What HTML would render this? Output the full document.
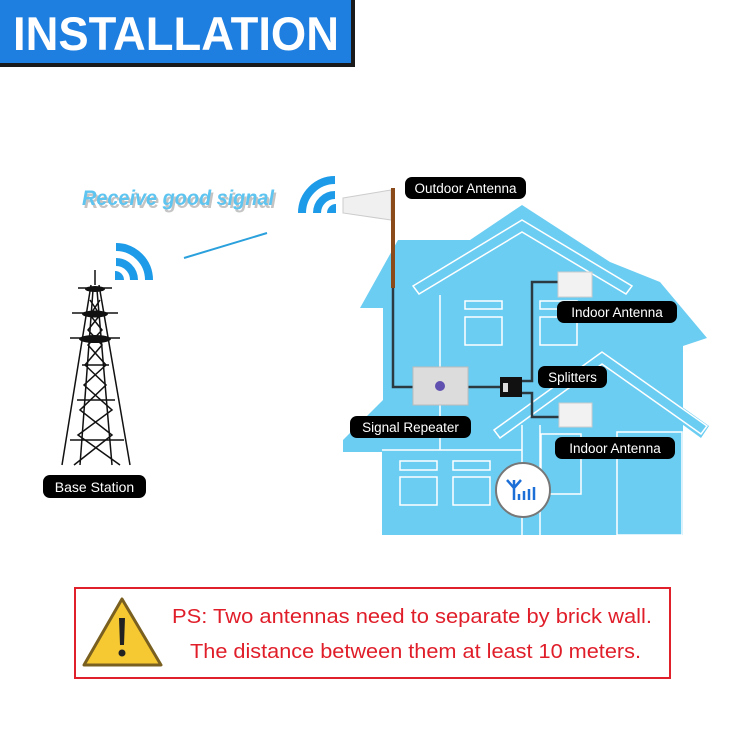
<!DOCTYPE html>
<html><head><meta charset="utf-8"><style>
html,body{margin:0;padding:0;background:#fff;}
svg{display:block;}
text{font-family:"Liberation Sans",Arial,sans-serif;}
</style></head><body>
<svg width="750" height="750" viewBox="0 0 750 750" xmlns="http://www.w3.org/2000/svg">
<rect width="750" height="750" fill="#fff"/>
<!-- header -->
<rect x="0" y="0" width="355" height="67" fill="#1a1a1a"/>
<rect x="0" y="0" width="351" height="63" fill="#1f7fe0"/>
<text x="176" y="50" font-size="47" font-weight="bold" fill="#fff" text-anchor="middle" textLength="326" lengthAdjust="spacingAndGlyphs">INSTALLATION</text>

<!-- signal text -->
<text x="180" y="208" font-size="21" font-weight="bold" font-style="italic" fill="#8a8a8a" opacity="0.5" text-anchor="middle" textLength="192" lengthAdjust="spacingAndGlyphs">Receive good signal</text>
<text x="178" y="205" font-size="21" font-weight="bold" font-style="italic" fill="#5ec4f0" text-anchor="middle" textLength="192" lengthAdjust="spacingAndGlyphs">Receive good signal</text>
<line x1="184" y1="258" x2="267" y2="233" stroke="#2aa0dc" stroke-width="2"/>

<!-- wifi 1 -->
<g fill="none" stroke="#1d9be8" stroke-width="8">
<path d="M116,262 A18,18 0 0 1 134,280"/>
<path d="M116,247 A33,33 0 0 1 149,280"/>
</g>
<path d="M115,271 A9,9 0 0 1 124,280 L115,280Z" fill="#1d9be8"/>
<!-- wifi 2 -->
<g fill="none" stroke="#1d9be8" stroke-width="8">
<path d="M335,195 A18,18 0 0 0 317,213"/>
<path d="M335,180 A33,33 0 0 0 302,213"/>
</g>
<path d="M336,204 A9,9 0 0 0 327,213 L336,213Z" fill="#1d9be8"/>

<!-- tower -->
<g stroke="#111" stroke-width="1.5" fill="none">
<line x1="95" y1="270" x2="95" y2="285"/>
<line x1="91" y1="285" x2="62" y2="465"/>
<line x1="99" y1="285" x2="130" y2="465"/>
<line x1="93" y1="290" x2="80" y2="465"/>
<line x1="97" y1="290" x2="112" y2="465"/>
<path d="M90,300 L100,315 L88,330 L102,345 L85,365 L106,385 L80,410 L112,435 L74,465 M100,300 L90,315 L102,330 L88,345 L106,365 L84,385 L112,410 L78,435 L120,465"/>
<line x1="70" y1="440" x2="124" y2="440"/>
<line x1="77" y1="400" x2="115" y2="400"/>
<line x1="82" y1="365" x2="109" y2="365"/>
<line x1="72" y1="313" x2="118" y2="313"/>
<line x1="70" y1="338" x2="120" y2="338"/>
<line x1="78" y1="288" x2="112" y2="288"/>
</g>
<ellipse cx="95" cy="289" rx="10" ry="3" fill="#111"/>
<ellipse cx="95" cy="314" rx="13" ry="3.5" fill="#111"/>
<ellipse cx="95" cy="339" rx="16" ry="4" fill="#111"/>
<rect x="43" y="475" width="103" height="23" rx="7" fill="#000"/>
<text x="94.5" y="492" font-size="14" fill="#fff" text-anchor="middle">Base Station</text>

<!-- house -->
<path d="M382,535 L382,452 L343,452 L343,440 L383,400 L383,308 L360,308 L398,240 L470,240 L522,205 L610,262 L660,282 L707,338 L683,346 L683,535 Z" fill="#6ccdf2"/>
<path d="M492,432 L602,350 L709,426 L701,438 L602,366 L500,440 Z" fill="#6ccdf2"/>
<g fill="none" stroke="#fff" stroke-width="1.5">
<path d="M413,286 L522,220 L632,286 L626,294 L522,232 L419,294 Z"/>
<path d="M494,430 L602,352 L707,426 L701,434 L602,364 L500,438 Z"/>
<line x1="440" y1="295" x2="440" y2="450"/>
<line x1="382" y1="450" x2="522" y2="450"/>
<line x1="522" y1="425" x2="522" y2="535"/>
<line x1="540" y1="425" x2="540" y2="535"/>
<rect x="465" y="301" width="37" height="8"/>
<rect x="465" y="317" width="37" height="28"/>
<rect x="540" y="301" width="37" height="8"/>
<rect x="540" y="317" width="37" height="28"/>
<rect x="400" y="461" width="37" height="9"/>
<rect x="400" y="477" width="37" height="28"/>
<rect x="453" y="461" width="37" height="9"/>
<rect x="453" y="477" width="37" height="28"/>
<rect x="541" y="434" width="40" height="60"/>
<rect x="617" y="432" width="65" height="103"/>
</g>
<!-- circle icon -->
<circle cx="523" cy="490" r="27" fill="#fff" stroke="#777" stroke-width="2"/>
<g stroke="#1d6fd8" stroke-width="2.5" fill="none">
<path d="M507,480 L514,488 L521,480 M514,480 L514,500"/>
<line x1="519" y1="500" x2="519" y2="494"/>
<line x1="524" y1="500" x2="524" y2="491"/>
<line x1="529" y1="500" x2="529" y2="489"/>
<line x1="534" y1="500" x2="534" y2="487"/>
</g>

<!-- cables -->
<g stroke="#2a3a40" stroke-width="2.5" fill="none">
<path d="M393,287 L393,387 L413,387"/>
<line x1="468" y1="387" x2="500" y2="387"/>
<path d="M522,381 L532,381 L532,282 L558,282"/>
<path d="M522,393 L532,393 L532,417 L559,417"/>
</g>
<!-- outdoor antenna -->
<path d="M343,198 L391,190 L391,220 L343,213 Z" fill="#f0f0f0" stroke="#ccc"/>
<rect x="391" y="188" width="4" height="100" fill="#8a4a1a"/>
<!-- repeater -->
<rect x="413" y="367" width="55" height="38" fill="#dcdcdc" stroke="#bbb"/>
<circle cx="440" cy="386" r="5" fill="#6050b0"/>
<!-- splitter -->
<rect x="500" y="377" width="22" height="20" fill="#111"/>
<rect x="503" y="383" width="5" height="9" fill="#ddd"/>
<!-- indoor antennas -->
<rect x="558" y="272" width="34" height="25" fill="#f2f2f2" stroke="#ccc"/>
<rect x="559" y="403" width="33" height="24" fill="#f2f2f2" stroke="#ccc"/>

<!-- labels -->
<g fill="#000">
<rect x="405" y="177" width="121" height="22" rx="7"/>
<rect x="557" y="301" width="120" height="22" rx="7"/>
<rect x="538" y="366" width="69" height="22" rx="7"/>
<rect x="350" y="416" width="121" height="22" rx="7"/>
<rect x="555" y="437" width="120" height="22" rx="7"/>
</g>
<g fill="#fff" font-size="13.5" text-anchor="middle">
<text x="465.5" y="193">Outdoor Antenna</text>
<text x="617" y="317">Indoor Antenna</text>
<text x="572.5" y="382">Splitters</text>
<text x="410.5" y="432">Signal Repeater</text>
<text x="615" y="453">Indoor Antenna</text>
</g>

<!-- warning -->
<rect x="75" y="588" width="595" height="90" fill="#fff" stroke="#e0202a" stroke-width="2"/>
<path d="M122,599 L161,665 L84,665 Z" fill="#f6c933" stroke="#7a6020" stroke-width="3" stroke-linejoin="round"/>
<path d="M119,618 L125,618 L124,645 L120,645 Z" fill="#222"/>
<circle cx="122" cy="653" r="3.5" fill="#222"/>
<text x="172" y="623" font-size="20.5" fill="#e01e2a" textLength="480" lengthAdjust="spacingAndGlyphs">PS: Two antennas need to separate by brick wall.</text>
<text x="190" y="658" font-size="20.5" fill="#e01e2a" textLength="451" lengthAdjust="spacingAndGlyphs">The distance between them at least 10 meters.</text>
</svg>
</body></html>
